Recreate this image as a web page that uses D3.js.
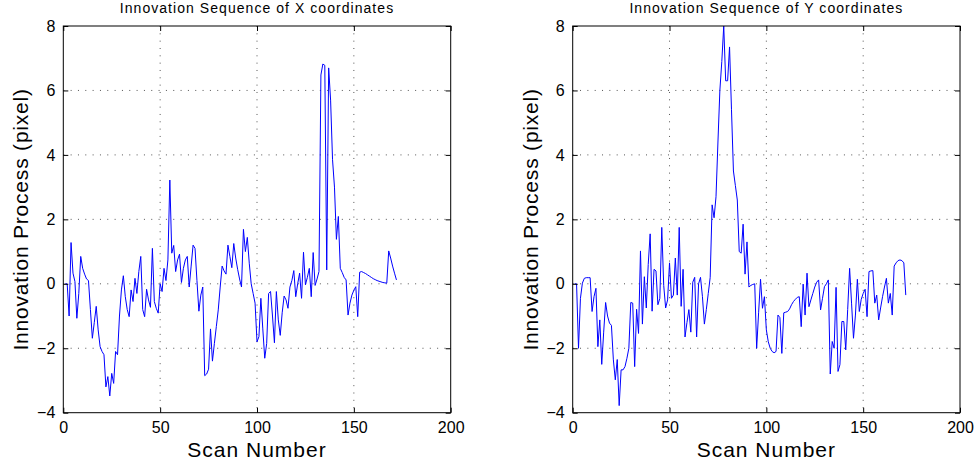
<!DOCTYPE html>
<html lang="en">
<head>
<meta charset="UTF-8">
<title>Innovation Sequences</title>
<script src="https://d3js.org/d3.v7.min.js"></script>
<style>
  body { margin: 0; background: #fff; }
  svg text { font-family: "Liberation Sans", Arial, Helvetica, sans-serif; fill: #000; }
</style>
</head>
<body>
<svg width="976" height="465" id="chart"></svg>
<script>
// innovation of X coordinates, one value per scan (1..172)
const innovX = [
  0, 0, -1.0, 1.28, 0.33, 0.07, -1.07, -0.3, 0.85, 0.48,
  0.3, 0.15, 0.1, -0.8, -1.69, -1.2, -0.7, -1.43, -1.95, -2.1,
  -2.2, -3.2, -2.88, -3.48, -2.78, -3.09, -2.1, -2.2, -1.0, -0.19,
  0.25, -0.4, -0.8, -1.02, -0.19, -0.55, 0.17, -0.3, 0.38, 0.85,
  -0.8, -1.02, -0.17, -0.5, -0.73, 1.1, -0.55, -0.76, -0.91, 0,
  -0.24, 0.48, 0.1, 0.74, 3.22, 0.95, 1.19, 0.38, 0.74, 0.92,
  0.04, 0.48, 0.74, 0.85, -0.1, 0.55, 1.2, 1.1, 0.1, -0.85,
  -0.35, -0.1, -2.85, -2.8, -2.65, -1.4, -2.4, -1.85, -1.33, -0.81,
  -0.1, 0.55, 0.4, 0.3, 1.2, 0.85, 0.5, 1.25, 0.8, 0.45,
  0.15, -0.1, 1.69, 1.0, 1.44, 0.64, 0.0, -0.3, -0.6, -1.8,
  -1.64, -0.45, -1.4, -2.31, -1.85, -0.3, -0.24, -1.0, -1.83, -0.24,
  -1.12, -1.6, -0.9, -0.38, -0.5, -0.76, -0.1, 0.1, 0.41, -0.4,
  0.0, 0.33, -0.45, 0.98, -0.03, 0.2, 0.48, -0.4, 0.97, -0.05,
  0.15, 0.38, 6.48, 6.82, 6.78, 0.43, 6.7, 5.7, 3.85, 3.0,
  1.38, 2.09, 0.48, 0.35, 0.2, 0.12, -0.97, -0.6, -0.35, -0.2,
  -0.09, -1.02, 0.36, 0.38, 0.35, 0.32, 0.28, 0.24, 0.2, 0.16,
  0.13, 0.1, 0.08, 0.06, 0.04, 0.03, 0.02, 1.02, 0.8, 0.55,
  0.33, 0.12
];

// innovation of Y coordinates, one value per scan (1..172)
const innovY = [
  0, 0, -2.0, -0.45, 0.02, 0.17, 0.19, 0.19, 0.19, -0.86,
  -0.4, -0.14, -1.95, -1.12, -2.5, -1.5, -0.58, -1.0, -1.22, -1.29,
  -2.36, -2.98, -2.35, -3.78, -2.67, -2.67, -2.57, -2.31, -2.0, -0.58,
  -0.6, -2.57, -0.79, -1.54, 1.02, -1.25, 0.22, -0.75, 0.6, 1.55,
  -0.85, 0.45, 0.4, -0.65, -0.45, 1.75, -0.05, -0.75, -0.5, 0.65,
  -0.45, -0.35, 0.8, -0.35, 1.75, -0.7, 0.45, -1.65, -1.2, -0.8,
  -1.5, 0.05, 0.2, -1.65, 0.0, 0.2, -0.4, -1.25, -0.8, -0.3,
  0.2, 2.45, 2.05, 2.7, 4.4, 6.0, 6.9, 8.0, 6.3, 6.3,
  7.35, 5.4, 3.5, 3.05, 2.6, 1.0, 0.95, 1.85, 0.3, 1.3,
  -0.1, -0.05, -0.02, 0.0, -2.0, -0.9, 0.14, -0.76, -0.4, -1.43,
  -1.8, -2.0, -2.1, -2.14, -2.1, -0.97, -1.05, -2.16, -0.9, -0.88,
  -0.86, -0.78, -0.65, -0.55, -0.48, -0.42, -0.4, -1.33, -0.01, -0.97,
  0.33, -0.71, -0.5, -0.3, -0.1, 0.05, 0.12, -0.81, -0.45, -0.09,
  0.0, 0.12, -2.8, -1.79, -2.0, -0.11, -2.72, -2.51, -1.17, -1.17,
  -2.05, -0.8, 0.48, -0.6, -1.69, -0.97, 0.14, -0.86, -0.48, -0.3,
  -0.17, -1.02, 0.38, 0.4, 0.41, -0.6, -0.35, -1.12, -0.75, -0.4,
  -0.1, 0.17, -0.6, -0.3, -0.97, 0.55, 0.65, 0.72, 0.74, 0.72,
  0.65, -0.35
];

const xTicks = [0, 50, 100, 150, 200];
const yTicks = [-4, -2, 0, 2, 4, 6, 8];

const panels = [
  { title: "Innovation Sequence of X coordinates", values: innovX, left: 63.3, right: 450.7 },
  { title: "Innovation Sequence of Y coordinates", values: innovY, left: 572.7, right: 960 }
];

const svg = d3.select("#chart");
const plotTop = 26, plotBottom = 412.7;

panels.forEach(p => {
  const x = d3.scaleLinear().domain([0, 200]).range([p.left, p.right]);
  const y = d3.scaleLinear().domain([-4, 8]).range([plotBottom, plotTop]);
  const g = svg.append("g");

  // dotted grid
  g.selectAll(".gx").data(xTicks.slice(1, -1)).enter().append("line")
    .attr("x1", d => x(d)).attr("x2", d => x(d))
    .attr("y1", plotTop).attr("y2", plotBottom)
    .attr("stroke", "#555").attr("stroke-width", 1)
    .attr("stroke-dasharray", "1,6.33");
  g.selectAll(".gy").data(yTicks.slice(1, -1)).enter().append("line")
    .attr("x1", p.left).attr("x2", p.right)
    .attr("y1", d => y(d)).attr("y2", d => y(d))
    .attr("stroke", "#555").attr("stroke-width", 1)
    .attr("stroke-dasharray", "1,6.33");

  // data line
  const line = d3.line().x((d, i) => x(i + 1)).y(d => y(d));
  g.append("path").datum(p.values)
    .attr("d", line)
    .attr("fill", "none")
    .attr("stroke", "#0000ff")
    .attr("stroke-width", 1);

  // axes with inward ticks, box style
  const ax = (gen, tx, ty) => {
    const a = g.append("g").attr("transform", `translate(${tx},${ty})`).call(gen);
    a.select(".domain").remove();
    a.selectAll(".tick line").attr("stroke", "#000");
    a.selectAll("text").style("font-size", "16px");
    return a;
  };
  ax(d3.axisBottom(x).tickValues(xTicks).tickSize(-5).tickPadding(9), 0, plotBottom);
  ax(d3.axisTop(x).tickValues(xTicks).tickSize(-5).tickFormat(""), 0, plotTop);
  ax(d3.axisLeft(y).tickValues(yTicks).tickSize(-5).tickPadding(8).tickFormat(d => d < 0 ? "\u2212" + Math.abs(d) : d), p.left, 0);
  ax(d3.axisRight(y).tickValues(yTicks).tickSize(-5).tickFormat(""), p.right, 0);

  g.append("rect")
    .attr("x", p.left).attr("y", plotTop)
    .attr("width", p.right - p.left).attr("height", plotBottom - plotTop)
    .attr("fill", "none").attr("stroke", "#000").attr("stroke-width", 1);

  const cx = (p.left + p.right) / 2;
  g.append("text").attr("x", cx).attr("y", 13.3)
    .attr("text-anchor", "middle").style("font-size", "14px")
    .style("letter-spacing", "1.05px").text(p.title);
  g.append("text").attr("x", cx).attr("y", 457.3)
    .attr("text-anchor", "middle").style("font-size", "21px")
    .style("letter-spacing", "1px").text("Scan Number");
  g.append("text")
    .attr("transform", `translate(${p.left - 35},${(plotTop + plotBottom) / 2}) rotate(-90)`)
    .attr("text-anchor", "middle").style("font-size", "21px")
    .style("letter-spacing", "0.8px")
    .text("Innovation Process (pixel)");
});
</script>
</body>
</html>
